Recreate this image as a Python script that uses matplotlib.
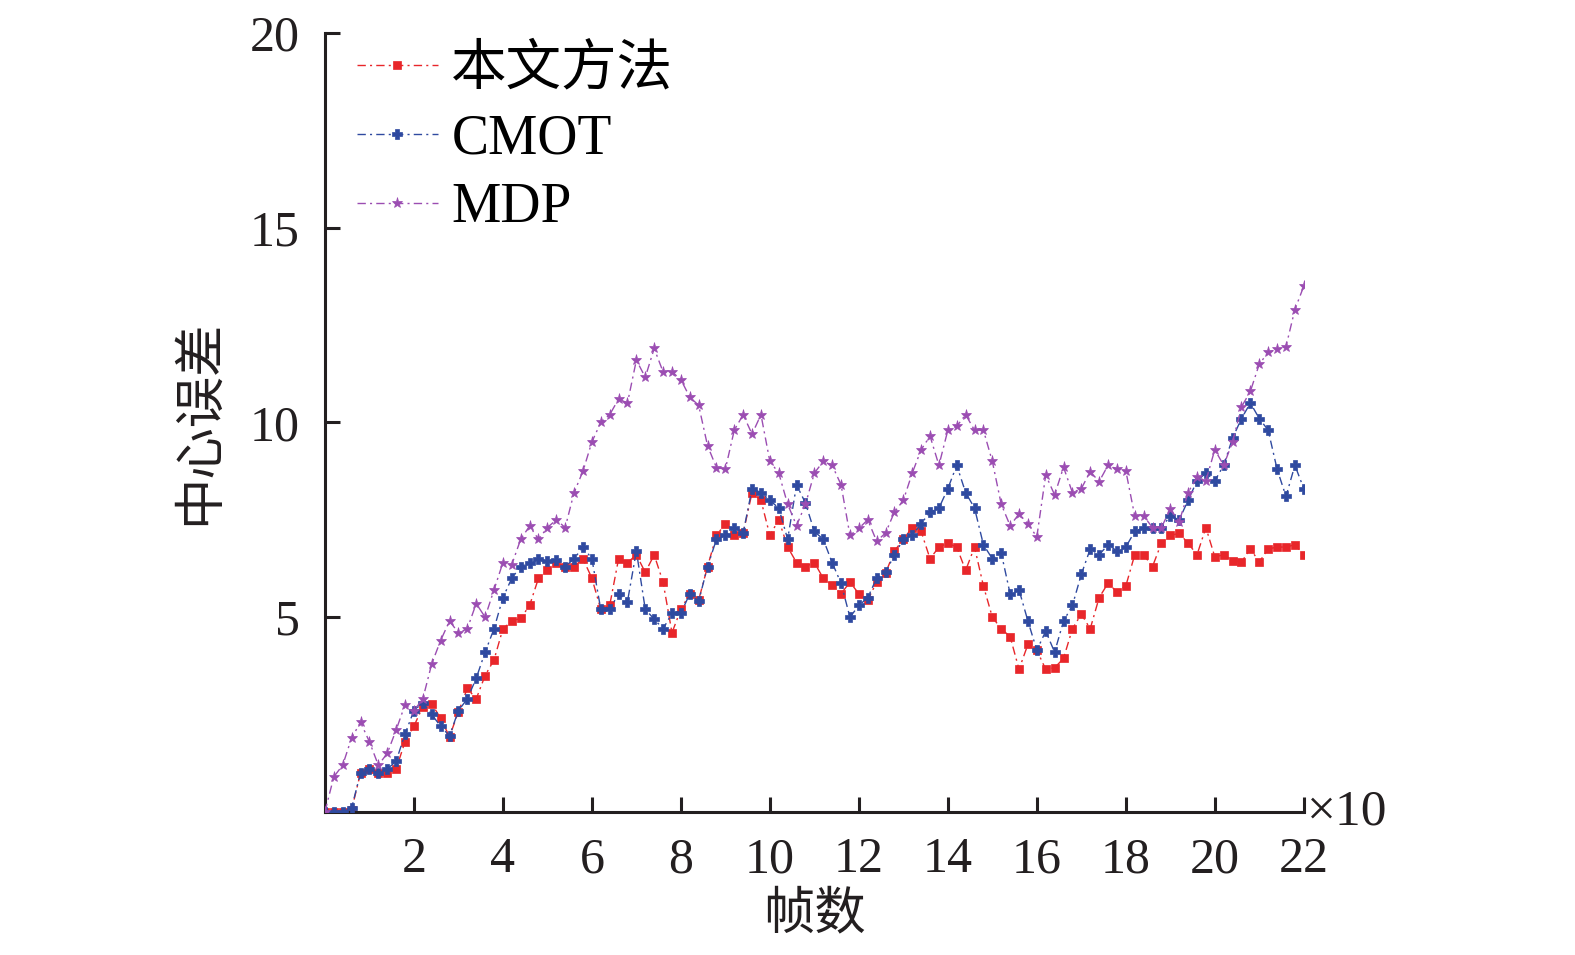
import matplotlib
matplotlib.use('Agg')
import matplotlib.pyplot as plt
import numpy as np

#-------------------------------------------DATA---------------------------------------
# frame index (x10), one reading every 2 frames
frames = np.arange(0, 221, 2) / 10.0

ours = [0, 0, 0, 0.05, 1.0, 1.1, 1.0, 1.0, 1.1, 1.8,
        2.2, 2.7, 2.78, 2.4, 1.93, 2.57, 3.17, 2.9, 3.5, 3.9,
        4.7, 4.9, 4.97, 5.3, 6.0, 6.2, 6.4, 6.3, 6.3, 6.5,
        6.0, 5.2, 5.3, 6.5, 6.4, 6.6, 6.15, 6.6, 5.9, 4.6,
        5.2, 5.6, 5.44, 6.3, 7.1, 7.4, 7.1, 7.16, 8.2, 8.0,
        7.1, 7.5, 6.8, 6.4, 6.3, 6.4, 6.0, 5.82, 5.6, 5.9,
        5.6, 5.44, 5.9, 6.13, 6.7, 7.0, 7.3, 7.2, 6.5, 6.8,
        6.9, 6.8, 6.2, 6.8, 5.8, 5.0, 4.7, 4.5, 3.66, 4.3,
        4.15, 3.66, 3.7, 3.94, 4.7, 5.08, 4.7, 5.5, 5.87, 5.65,
        5.8, 6.6, 6.6, 6.3, 6.9, 7.1, 7.15, 6.9, 6.6, 7.3,
        6.55, 6.6, 6.45, 6.42, 6.75, 6.42, 6.75, 6.8, 6.8, 6.86,
        6.6]

cmot = [0, 0, 0, 0.1, 1.0, 1.1, 1.0, 1.1, 1.3, 2.0,
        2.6, 2.8, 2.5, 2.2, 1.95, 2.6, 2.9, 3.43, 4.1, 4.7,
        5.5, 6.0, 6.3, 6.4, 6.5, 6.45, 6.47, 6.3, 6.5, 6.8,
        6.5, 5.2, 5.2, 5.6, 5.4, 6.7, 5.2, 4.95, 4.7, 5.1,
        5.1, 5.6, 5.41, 6.3, 7.0, 7.1, 7.3, 7.16, 8.3, 8.2,
        8.0, 7.8, 7.0, 8.4, 7.93, 7.2, 7.0, 6.4, 5.87, 5.0,
        5.3, 5.5, 6.0, 6.15, 6.6, 7.0, 7.1, 7.4, 7.7, 7.8,
        8.3, 8.9, 8.2, 7.8, 6.86, 6.5, 6.65, 5.6, 5.7, 4.9,
        4.15, 4.64, 4.1, 4.9, 5.3, 6.1, 6.75, 6.6, 6.86, 6.7,
        6.8, 7.2, 7.3, 7.3, 7.3, 7.6, 7.5, 8.0, 8.5, 8.7,
        8.5, 8.9, 9.6, 10.1, 10.5, 10.1, 9.8, 8.8, 8.1, 8.9,
        8.3]

mdp = [0, 0.9, 1.2, 1.9, 2.3, 1.8, 1.2, 1.5, 2.1, 2.75,
       2.6, 2.9, 3.8, 4.4, 4.9, 4.6, 4.7, 5.35, 5.0, 5.7,
       6.4, 6.35, 7.0, 7.34, 7.0, 7.3, 7.5, 7.3, 8.2, 8.75,
       9.5, 10.0, 10.2, 10.6, 10.5, 11.6, 11.16, 11.9, 11.3, 11.3,
       11.1, 10.65, 10.44, 9.4, 8.84, 8.8, 9.8, 10.2, 9.7, 10.2,
       9.0, 8.7, 7.9, 7.35, 7.9, 8.7, 9.0, 8.9, 8.4, 7.1,
       7.28, 7.5, 6.95, 7.16, 7.7, 8.0, 8.7, 9.3, 9.65, 8.9,
       9.8, 9.9, 10.2, 9.8, 9.8, 9.0, 7.9, 7.35, 7.65, 7.4,
       7.06, 8.65, 8.14, 8.85, 8.2, 8.3, 8.74, 8.48, 8.9, 8.8,
       8.76, 7.6, 7.6, 7.3, 7.3, 7.78, 7.45, 8.2, 8.6, 8.5,
       9.3, 8.9, 9.5, 10.4, 10.8, 11.5, 11.8, 11.88, 11.95, 12.9,
       13.5]

labels = ['本文方法', 'CMOT', 'MDP']
colors = ['#e8262a', '#2f4aa0', '#9b4db2']
markers = ['s', 'P', '*']
#-------------------------------------------DATA---------------------------------------

plt.rcParams['font.family'] = ['Liberation Serif', 'Noto Sans CJK SC']

fig = plt.figure(figsize=(15.75, 9.55), dpi=100)
ax = fig.add_axes([0.2063, 0.1539 - 0.004, 0.6215, 0.8155])

series = [ours, cmot, mdp]
sizes = [6, 6.5, 8]
for i in range(3):
    ax.plot(frames, series[i], color=colors[i], linestyle=(0, (6, 3, 1.5, 3)),
            linewidth=1.0, marker=markers[i], markersize=sizes[i],
            markeredgewidth=0.5, label=labels[i], zorder=2 + i)

ax.set_xlim(0, 22)
ax.set_ylim(0, 20)
ax.set_xticks(np.arange(2, 23, 2))
ax.set_yticks([5, 10, 15, 20])

for s in ['top', 'right']:
    ax.spines[s].set_visible(False)
for s in ['left', 'bottom']:
    ax.spines[s].set_linewidth(2.2)
    ax.spines[s].set_color('#231f20')

ax.tick_params(direction='in', length=11, width=2.2, labelsize=36, pad=18,
               colors='#231f20')

ax.set_xlabel('帧数', fontsize=37, labelpad=6, color='#231f20')
ax.set_ylabel('中心误差', fontsize=37, labelpad=18, color='#231f20')

ax.text(1.003, 0.0, '×10', transform=ax.transAxes, fontsize=37,
        ha='left', va='center', color='#231f20')

ax.legend(loc='upper left', bbox_to_anchor=(-0.007, 1.035), frameon=False,
          fontsize=40, handlelength=1.45, handletextpad=0.25, labelspacing=0.3,
          borderaxespad=0.3)

plt.savefig('out.png', dpi=100)
